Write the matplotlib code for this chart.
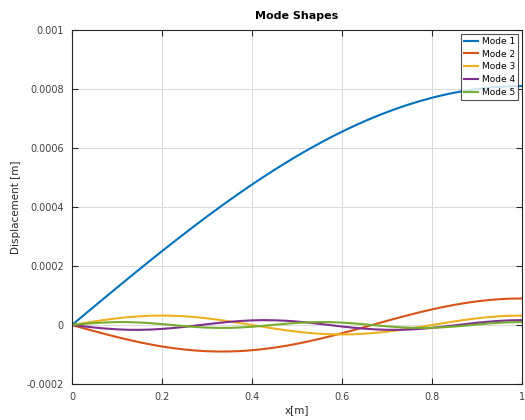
import numpy as np
import matplotlib
matplotlib.use("Agg")
import matplotlib.pyplot as plt

# x positions [m]
x = np.arange(41) * 0.025

# displacement values, in micrometres (1e-6 m)
mode1_um = [0, 31.8, 63.6, 95.2, 126.7, 158.0, 189.1, 219.9, 250.3, 280.3,
            310.0, 339.1, 367.7, 395.8, 423.2, 450.0, 476.1, 501.5, 526.1, 549.8,
            572.8, 594.8, 615.9, 636.1, 655.3, 673.5, 690.6, 706.7, 721.7, 735.6,
            748.3, 759.9, 770.4, 779.6, 787.6, 794.4, 800.0, 804.4, 807.5, 809.4, 810.0]
mode2_um = [0, -10.6, -21.0, -31.2, -40.9, -50.0, -58.5, -66.1, -72.8, -78.5,
            -83.1, -86.6, -88.9, -89.9, -89.7, -88.3, -85.6, -81.7, -76.7, -70.7,
            -63.6, -55.7, -47.0, -37.7, -27.8, -17.6, -7.1, 3.5, 14.1, 24.4,
            34.4, 44.0, 52.9, 61.1, 68.4, 74.8, 80.2, 84.4, 87.5, 89.4, 90.0]
mode3_um = [0, 6.2, 12.2, 17.8, 22.6, 26.6, 29.6, 31.4, 32.0, 31.4,
            29.6, 26.6, 22.6, 17.8, 12.2, 6.2, 0, -6.2, -12.2, -17.8,
            -22.6, -26.6, -29.6, -31.4, -32.0, -31.4, -29.6, -26.6, -22.6, -17.8,
            -12.2, -6.2, 0, 6.2, 12.2, 17.8, 22.6, 26.6, 29.6, 31.4, 32.0]
mode4_um = [0, -4.5, -8.6, -12.1, -14.7, -16.2, -16.4, -15.5, -13.3, -10.2,
            -6.3, -1.9, 2.6, 6.9, 10.7, 13.7, 15.7, 16.5, 16.0, 14.4,
            11.7, 8.1, 3.9, -0.6, -5.1, -9.2, -12.5, -15.0, -16.3, -16.4,
            -15.2, -13.0, -9.7, -5.7, -1.3, 3.2, 7.5, 11.2, 14.1, 15.9, 16.5]
mode5_um = [0, 3.5, 6.5, 8.7, 9.9, 9.8, 8.5, 6.2, 3.1, -0.4,
            -3.8, -6.8, -8.9, -9.9, -9.7, -8.3, -5.9, -2.7, 0.8, 4.2,
            7.1, 9.1, 10.0, 9.6, 8.1, 5.6, 2.3, -1.2, -4.5, -7.3,
            -9.2, -10.0, -9.5, -7.9, -5.2, -2.0, 1.6, 4.9, 7.6, 9.4, 10.0]

labels = ["Mode 1", "Mode 2", "Mode 3", "Mode 4", "Mode 5"]
modes = [mode1_um, mode2_um, mode3_um, mode4_um, mode5_um]
colors = ["#0072BD", "#D95319", "#EDB120", "#7E2F8E", "#77AC30"]

xticks = [0, 0.2, 0.4, 0.6, 0.8, 1]
xticklabels = ["0", "0.2", "0.4", "0.6", "0.8", "1"]
yticks = [-0.0002, 0, 0.0002, 0.0004, 0.0006, 0.0008, 0.001]
yticklabels = ["-0.0002", "0", "0.0002", "0.0004", "0.0006", "0.0008", "0.001"]

plt.rcParams['font.family'] = ['DejaVu Sans']
fig = plt.figure(figsize=(5.25, 4.2), dpi=100)
ax = fig.add_axes([72/525, 1 - 384/420, 450/525, 354/420])

for m, lab, c in zip(modes, labels, colors):
    ax.plot(x, np.array(m) * 1e-6, color=c, lw=1.5, label=lab)

dark = "#262626"
ax.set_xlim(0, 1)
ax.set_ylim(-0.0002, 0.001)
ax.set_xticks(xticks)
ax.set_xticklabels(xticklabels)
ax.set_yticks(yticks)
ax.set_yticklabels(yticklabels)
ax.tick_params(direction='in', length=4, width=0.8, colors=dark, labelsize=7,
               top=True, right=True, pad=6)
ax.tick_params(labelcolor="#404040")
ax.grid(True, color="#d9d9d9", lw=0.7)
for s in ax.spines.values():
    s.set_color(dark)
    s.set_linewidth(0.8)

ax.set_xlabel("x[m]", fontsize=7.5, color=dark, labelpad=2)
ax.set_ylabel("Displacement [m]", fontsize=7.5, color=dark, labelpad=4)
ax.set_title("Mode Shapes", fontsize=8, fontweight='bold', color="black", pad=8)

leg = ax.legend(loc='upper right', fontsize=6.5, frameon=True, fancybox=False,
                edgecolor=dark, borderpad=0.35, labelspacing=0.42,
                handlelength=1.6, handletextpad=0.4, borderaxespad=0.4)
leg.get_frame().set_linewidth(0.8)

fig.savefig("out.png", dpi=100)
